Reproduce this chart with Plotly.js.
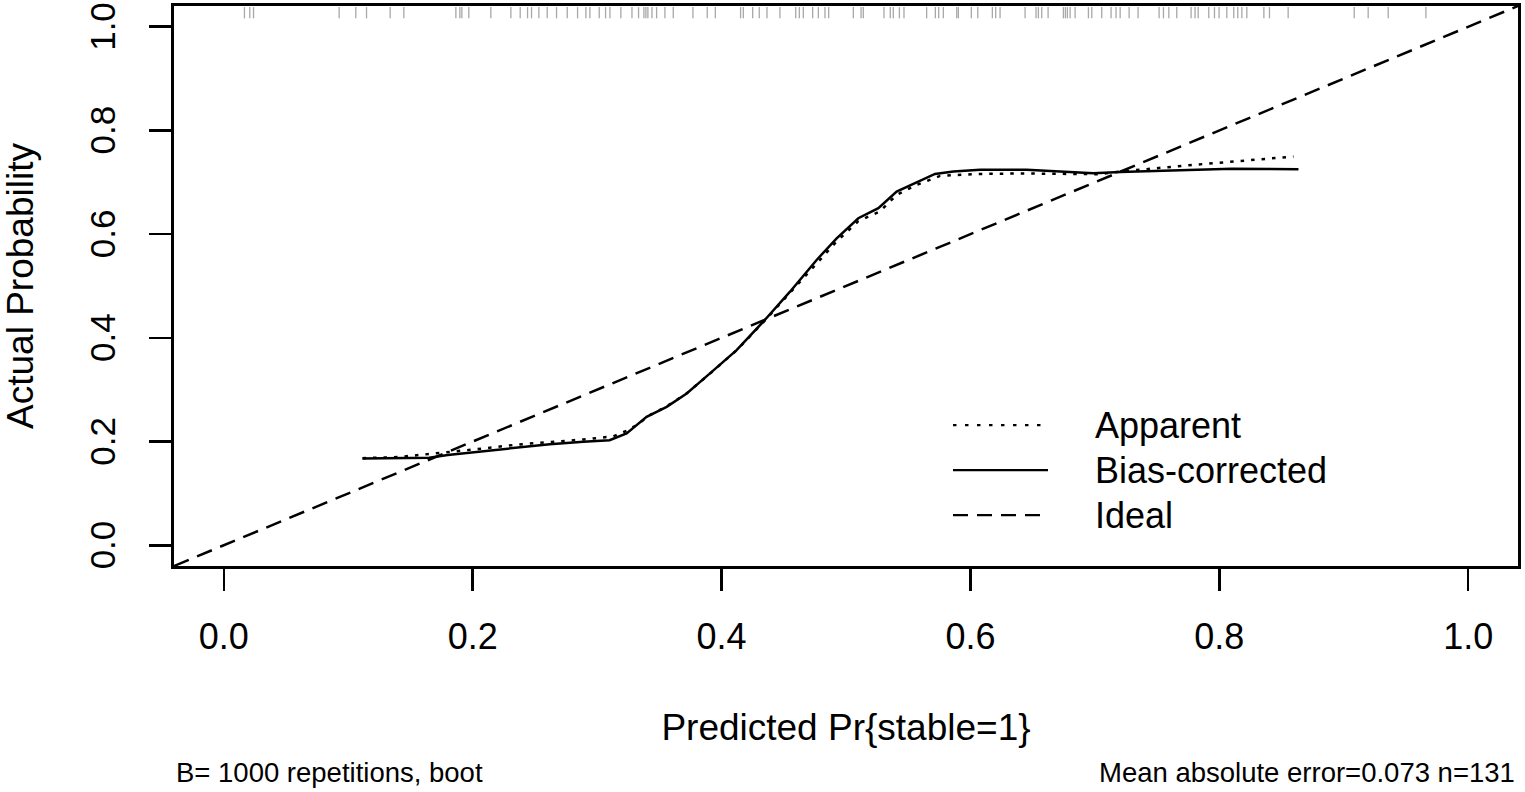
<!DOCTYPE html>
<html>
<head>
<meta charset="utf-8">
<script src="https://cdn.plot.ly/plotly-3.0.1.min.js"></script>
<style>html,body{margin:0;padding:0;background:#fff;}#chart{width:1525px;height:792px;}</style>
</head>
<body>
<div id="chart"></div>
<script>
// Bias-corrected calibration curve
const biasX = [0.1115,0.14,0.165,0.18,0.21,0.235,0.262,0.289,0.310,0.3237,0.3398,0.3559,0.372,0.3907,0.4121,0.4335,0.455,0.4764,0.4925,0.5099,0.526,0.5407,0.5568,0.5715,0.5863,0.6077,0.6452,0.6988,0.7203,0.7792,0.81,0.8636];
const biasY = [0.1673,0.168,0.169,0.174,0.182,0.1886,0.195,0.1995,0.2027,0.2156,0.2477,0.267,0.2928,0.3314,0.3764,0.4311,0.489,0.5502,0.592,0.6307,0.650,0.682,0.6994,0.7162,0.7207,0.724,0.724,0.7175,0.720,0.724,0.726,0.7253];
// Apparent calibration curve
const appX = [0.1115,0.14,0.165,0.182,0.21,0.235,0.262,0.289,0.313,0.3237,0.3317,0.3424,0.3559,0.372,0.3907,0.4121,0.4335,0.455,0.4764,0.4925,0.5099,0.527,0.5407,0.5568,0.5756,0.6077,0.64,0.672,0.704,0.72,0.779,0.8596];
const appY = [0.168,0.170,0.176,0.180,0.187,0.194,0.199,0.204,0.210,0.2207,0.2317,0.251,0.268,0.293,0.331,0.376,0.430,0.487,0.545,0.586,0.625,0.6435,0.6757,0.695,0.7124,0.7162,0.717,0.7156,0.7156,0.7207,0.7336,0.7496];
// Ideal line (y = x) across the plotting range
const idealXY = [-0.04, 1.04];
// Rug of predicted probabilities
const rugX = [0.0166,0.0209,0.0239,0.0927,0.1061,0.1147,0.1337,0.1447,0.1865,0.1897,0.1913,0.1969,0.2146,0.2307,0.2382,0.2441,
0.2473,0.2532,0.2599,0.2674,0.2760,0.2843,0.2910,0.2942,0.3017,0.3068,0.3103,0.3191,0.3280,0.3333,0.3376,0.3392,0.3408,0.3441,0.3478,0.3545,0.3612,0.3770,0.3885,0.3950,0.4153,0.4175,0.4250,0.4303,0.4365,0.4469,0.4596,0.4625,0.4657,0.4732,0.4778,0.4831,0.4861,
0.5059,0.5121,0.5139,0.5305,0.5356,0.5380,0.5429,0.5466,0.5648,0.5718,0.5745,0.5782,0.5890,0.5903,0.6007,0.6059,0.6176,0.6203,0.6238,0.6439,0.6527,0.6546,0.6573,0.6624,0.6747,0.6763,0.6779,0.6801,0.6841,0.6948,0.6975,0.7055,0.7130,0.7170,0.7203,0.7275,
0.7347,0.7516,0.7551,0.7594,0.7658,0.7773,0.7805,0.7830,0.7915,0.7961,0.7998,0.8060,0.8116,0.8148,0.8181,0.8221,0.8358,0.8403,0.8553,0.9084,0.9196,0.9357,0.9660];
const tickVals = [0, 0.2, 0.4, 0.6, 0.8, 1.0];
const tickText = ['0.0','0.2','0.4','0.6','0.8','1.0'];
const legendNames = ['Apparent','Bias-corrected','Ideal'];
const legendDash = ['3.5px,8.5px','solid','15px,9px'];
const xTitle = 'Predicted Pr{stable=1}';
const yTitle = 'Actual Probability';
const noteLeft = 'B= 1000 repetitions, boot';
const noteRight = 'Mean absolute error=0.073 n=131';

const FONT = 'Liberation Sans, Arial, Helvetica, sans-serif';

const traces = [
  {x: idealXY, y: idealXY, mode:'lines', line:{color:'#000', width:2.5, dash:'16px,9px'}, hoverinfo:'skip'},
  {x: appX, y: appY, mode:'lines', line:{color:'#000', width:2.5, dash:'3.5px,7px'}, name:'Apparent'},
  {x: biasX, y: biasY, mode:'lines', line:{color:'#000', width:2.5}, name:'Bias-corrected'}
];

const shapes = rugX.map(v => ({type:'line', xref:'x', yref:'y domain', x0:v, x1:v, y0:0.998, y1:0.978,
  line:{color:'#a8a8a8', width:1.3}}));

// legend (manual, R-style)
const legY = [0.2515, 0.1711, 0.0907];
const annotations = [];
legendNames.forEach((n, i) => {
  shapes.push({type:'line', xref:'paper', yref:'paper', x0:0.5796, x1:0.6503, y0:legY[i], y1:legY[i],
    line:{color:'#000', width:2.3, dash:legendDash[i]}});
  annotations.push({xref:'paper', yref:'paper', x:0.6838, y:legY[i], xanchor:'left', yanchor:'middle',
    text:n, showarrow:false, font:{family:FONT, size:36, color:'#000'}});
});
annotations.push({xref:'paper', yref:'paper', x:0.0, y:-0.369, xanchor:'left', yanchor:'middle',
  text:noteLeft, showarrow:false, font:{family:FONT, size:27.5, color:'#000'}});
annotations.push({xref:'paper', yref:'paper', x:0.9995, y:-0.369, xanchor:'right', yanchor:'middle',
  text:noteRight, showarrow:false, font:{family:FONT, size:27.5, color:'#000'}});

const axisCommon = {
  range:[-0.04, 1.04], showgrid:false, zeroline:false,
  showline:true, mirror:true, linecolor:'#000', linewidth:2.8,
  ticks:'outside', ticklen:22, tickwidth:2.5, tickcolor:'#000',
  tickvals:tickVals, ticktext:tickText, ticklabeloverflow:'allow',
  tickfont:{family:FONT, size:36, color:'#000'}
};

const layout = {
  width:1525, height:792,
  margin:{l:174, r:7, t:6, b:226},
  paper_bgcolor:'#fff', plot_bgcolor:'#fff',
  showlegend:false,
  xaxis: Object.assign({}, axisCommon, {
    ticklabelstandoff: 15,
    title:{text:xTitle, font:{family:FONT, size:37, color:'#000'}, standoff:58}
  }),
  yaxis: Object.assign({}, axisCommon, {
    tickangle:-90, ticklabelstandoff: 20, ticklabelshift:5,
    tickfont:{family:FONT, size:35, color:'#000'},
    title:{text:yTitle, font:{family:FONT, size:37, color:'#000'}, standoff:40}
  }),
  shapes: shapes,
  annotations: annotations
};

Plotly.newPlot('chart', traces, layout, {displayModeBar:false, staticPlot:true});
</script>
</body>
</html>
